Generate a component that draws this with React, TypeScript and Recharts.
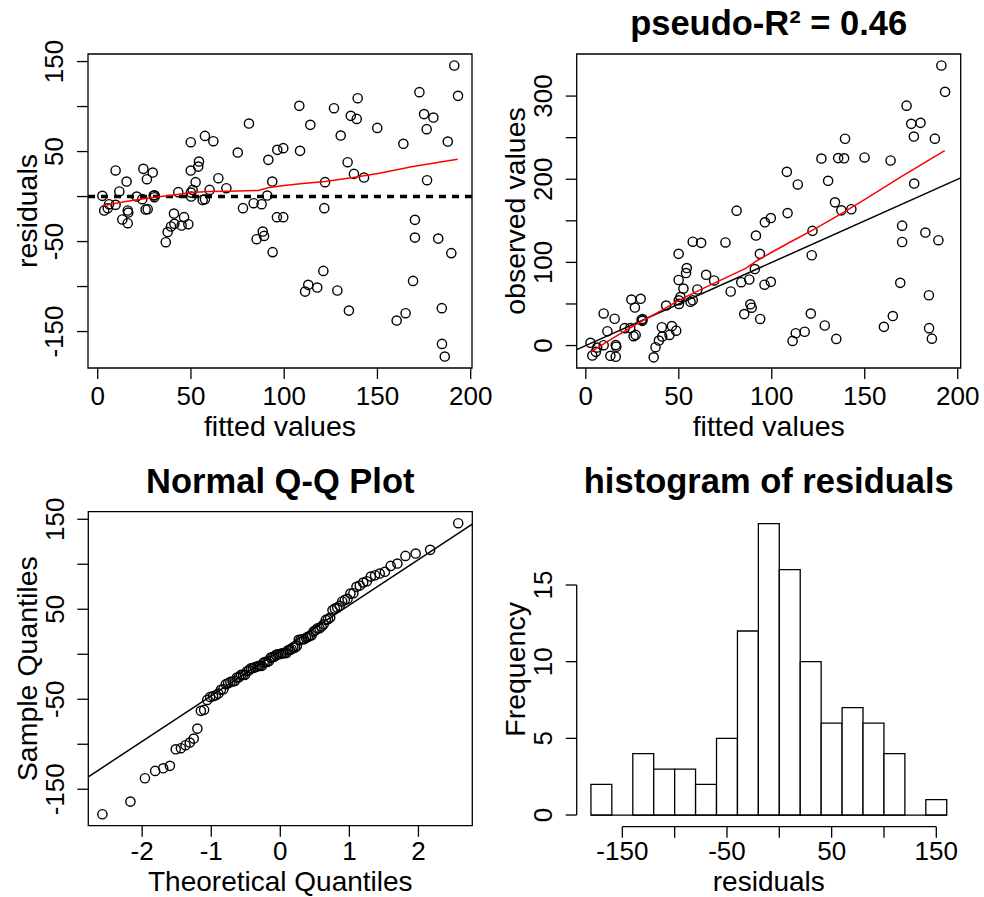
import React from "react";
import {
  Bar,
  ComposedChart,
  ReferenceArea,
  ReferenceLine,
  Scatter,
  ScatterChart,
  XAxis,
  YAxis,
} from "recharts";

const FONT = "'Liberation Sans', Arial, Helvetica, sans-serif";
const TICK_FONT = 26;
const LABEL_FONT = 28.5;
const TITLE_FONT = 34.5;

// fitted values and residuals of the model (panel 1)
const fitted = [
  2.5, 3.5, 5.4, 6.1, 9.6, 9.6, 11.6, 13.2, 15.5, 16.1, 16.4, 16.1, 20.9, 24.5, 23.9, 25.7, 26.8,
  26.4, 29.5, 30, 30.4, 30.5, 36.5, 37.5, 39.3, 40.9, 41.1, 43.2, 45, 46.3, 48.6, 49.9, 49.9, 50,
  50.1, 50.9, 52.5, 53.9, 54.3, 56.3, 57.5, 57.5, 60, 62, 64.7, 69, 75.1, 77.9, 81.1, 83.6, 85.2,
  87.9, 88.5, 89.2, 90.9, 91.5, 93.6, 93.8, 96.3, 96.1, 99.5, 99.5, 108.1, 108.5, 111.2, 112.9, 114,
  117.7, 121, 121.9, 121.5, 126.7, 128.5, 130.3, 134, 134.7, 135.7, 138.9, 139.4, 137.4, 142.8,
  149.9, 160.3, 163.9, 165.1, 169.1, 170.1, 170.1, 172.5, 175, 176.4, 176.6, 180, 182.6, 184.5,
  184.6, 186.1, 187.7, 189.6, 191.2, 193.2,
];
const residuals = [
  0.8, -15.5, -13, -8.5, -9.2, 29, 5.6, -25.5, 16.7, -15.5, -17.8, -29.6, 0, 30.8, -2.9, -14.4, -14,
  19.3, 26.7, 1.1, -0.7, 1.5, -50.7, -39.5, -33.3, -18.9, -30.3, 4.9, -32.2, -22.9, -30.7, 60.4,
  28.9, 4.4, 0, 7.4, 16, 33.3, 38.9, -3.7, 67.4, -3, 7.4, 61.5, 20.4, 9.3, 48.9, -12.9, 81.1, -7.4,
  -47.4, -8.5, -38.9, -43.7, 1.1, 40.8, 16.7, -61.8, 51.9, -22.9, 53.8, -22.9, 100.8, 50.8, -105.6,
  -98.1, 79.7, -101.1, -82.6, 16, -12.9, 98.2, -104.4, 67.8, 38.2, -126.7, 89.7, 86.3, 109.3, 25.2,
  21.1, 76.3, -137.8, 58.6, -129.6, -93.7, -25.9, -45.6, 116, 91.6, 74.9, 18.2, 87.8, -46.7, -124,
  -163.7, -177.8, 61.1, -62.9, 145.6, 111.9,
];
// observed values (panel 2), same order as fitted
const observed = [
  3.3, -12, -7.6, -2.4, 0.4, 38.6, 17.2, -12.3, 32.2, 0.6, -1.4, -13.5, 20.9, 55.3, 21, 11.3, 12.8,
  45.7, 56.2, 31.1, 29.7, 32, -14.2, -2, 6, 22, 10.8, 48.1, 12.8, 23.4, 17.9, 110.3, 78.8, 54.4,
  50.1, 58.3, 68.5, 87.2, 93.2, 52.6, 124.9, 54.5, 67.4, 123.5, 85.1, 78.3, 124, 65, 162.2, 76.2,
  37.8, 79.4, 49.6, 45.5, 92, 132.3, 110.3, 32, 148.2, 73.2, 153.3, 76.6, 208.9, 159.3, 5.6, 14.8,
  193.7, 16.6, 38.4, 137.9, 108.6, 224.9, 24.1, 198.1, 172.2, 8, 225.4, 225.2, 248.7, 162.6, 163.9,
  226.2, 22.5, 222.5, 35.5, 75.4, 144.2, 124.5, 288.5, 266.6, 251.3, 194.8, 267.8, 135.9, 60.5,
  20.9, 8.3, 248.8, 126.7, 336.8, 305.1,
];

// red smoothers
const smoothX = [2.5, 15, 29, 40, 50, 60, 70, 80, 86, 92, 100, 110, 122, 137, 151, 169, 193];
const smoothResid = [-10.3, -5.5, -1, 1.5, 4.4, 5.5, 6, 6.5, 6.8, 10, 12.2, 14.5, 16.7, 21.1, 26, 33.3, 41.5];
const smoothObserved = [-7.8, 9.5, 28, 41.5, 54.4, 65.5, 76, 86.5, 92.8, 102, 112.2, 124.5, 138.7, 158.1, 177, 202.3, 234.5];

// normal Q-Q plot
const theoretical = [
  -2.5758, -2.1701, -1.96, -1.8119, -1.6954, -1.5982, -1.5141, -1.4395, -1.3722, -1.3106, -1.2536,
  -1.2004, -1.1503, -1.1031, -1.0581, -1.0152, -0.9741, -0.9346, -0.8965, -0.8596, -0.8239, -0.7892,
  -0.7554, -0.7225, -0.6903, -0.6588, -0.628, -0.5978, -0.5681, -0.5388, -0.5101, -0.4817, -0.4538,
  -0.4261, -0.3989, -0.3719, -0.3451, -0.3186, -0.2924, -0.2663, -0.2404, -0.2147, -0.1891, -0.1637,
  -0.1383, -0.113, -0.0878, -0.0627, -0.0376, -0.0125, 0.0125, 0.0376, 0.0627, 0.0878, 0.113,
  0.1383, 0.1637, 0.1891, 0.2147, 0.2404, 0.2663, 0.2924, 0.3186, 0.3451, 0.3719, 0.3989, 0.4261,
  0.4538, 0.4817, 0.5101, 0.5388, 0.5681, 0.5978, 0.628, 0.6588, 0.6903, 0.7225, 0.7554, 0.7892,
  0.8239, 0.8596, 0.8965, 0.9346, 0.9741, 1.0152, 1.0581, 1.1031, 1.1503, 1.2004, 1.2536, 1.3106,
  1.3722, 1.4395, 1.5141, 1.5982, 1.6954, 1.8119, 1.96, 2.1701, 2.5758,
];
const sampleQuantiles = [
  -177.8, -163.7, -137.8, -129.6, -126.7, -124, -105.6, -104.4, -101.1, -98.1, -93.7, -82.6, -62.9,
  -61.8, -50.7, -47.4, -46.7, -45.6, -43.7, -39.5, -38.9, -33.3, -32.2, -30.7, -30.3, -29.6, -25.9,
  -25.5, -22.9, -22.9, -22.9, -18.9, -17.8, -15.5, -15.5, -14.4, -14, -13, -12.9, -12.9, -9.2, -8.5,
  -8.5, -7.4, -3.7, -3, -2.9, -0.7, 0, 0, 0.8, 1.1, 1.1, 1.5, 4.4, 4.9, 5.6, 7.4, 7.4, 9.3, 16, 16,
  16.7, 16.7, 18.2, 19.3, 20.4, 21.1, 25.2, 26.7, 28.9, 29, 30.8, 33.3, 38.2, 38.9, 40.8, 48.9,
  50.8, 51.9, 53.8, 58.6, 60.4, 61.5, 67.4, 67.8, 74.9, 76.3, 79.7, 81.1, 86.3, 87.8, 89.7, 91.6,
  98.2, 100.8, 109.3, 111.9, 116, 145.6,
];
const qqLineX = [-2.78, 2.78];
const qqLineY = [-136.2, 144.6];

// histogram of residuals
const binMids = [-170, -150, -130, -110, -90, -70, -50, -30, -10, 10, 30, 50, 70, 90, 110, 130, 150];
const binCounts = [2, 0, 4, 3, 3, 2, 5, 12, 19, 16, 10, 6, 7, 6, 4, 0, 1];

const residualPoints = fitted.map((x, i) => ({ x, y: residuals[i] }));
const observedPoints = fitted.map((x, i) => ({ x, y: observed[i] }));
const residSmooth = smoothX.map((x, i) => ({ x, y: smoothResid[i] }));
const observedSmooth = smoothX.map((x, i) => ({ x, y: smoothObserved[i] }));
const qqPoints = theoretical.map((x, i) => ({ x, y: sampleQuantiles[i] }));
const histData = binMids.map((mid, i) => ({ mid, count: binCounts[i] }));

const TICK_LINE = { stroke: "#000", strokeWidth: 1.3 };

const Ring = (p: any) => (
  <circle cx={p.cx} cy={p.cy} r={4.6} fill="none" stroke="#000" strokeWidth={1.4} />
);
const NoMark = () => <g />;

// x tick labels; R skips labels that would collide, so only some ticks get one
function xTick(labels: number[], drop = 26) {
  return (p: any) => {
    if (!labels.includes(p.payload.value)) return <g />;
    return (
      <text x={p.x} y={p.y + drop} textAnchor="middle" fontSize={TICK_FONT} fontFamily={FONT} fill="#000">
        {String(p.payload.value)}
      </text>
    );
  };
}

function yTick(labels: number[]) {
  return (p: any) => {
    if (!labels.includes(p.payload.value)) return <g />;
    const bx = p.x - 13.5;
    return (
      <text
        x={bx}
        y={p.y}
        transform={`rotate(-90 ${bx} ${p.y})`}
        textAnchor="middle"
        fontSize={TICK_FONT}
        fontFamily={FONT}
        fill="#000"
      >
        {String(p.payload.value)}
      </text>
    );
  };
}

const axisCommon = {
  type: "number" as const,
  allowDataOverflow: true,
  axisLine: false,
  tickLine: TICK_LINE,
  tickSize: 11,
  tickMargin: 0,
  interval: 0 as const,
};

function Label({ x, y, text, rotate, bold, size }: { x: number; y: number; text: string; rotate?: boolean; bold?: boolean; size: number }) {
  return (
    <text
      x={x}
      y={y}
      transform={rotate ? `rotate(-90 ${x} ${y})` : undefined}
      textAnchor="middle"
      fontSize={size}
      fontWeight={bold ? "bold" : "normal"}
      fontFamily={FONT}
      fill="#000"
    >
      {text}
    </text>
  );
}

export default function App() {
  const p1x: [number, number] = [-5.2, 200.7];
  const p1y: [number, number] = [-190.5, 158.4];
  const p2x: [number, number] = [-4.9, 201.6];
  const p2y: [number, number] = [-27, 350.6];
  const p3x: [number, number] = [-2.78, 2.78];
  const p3y: [number, number] = [-190.5, 158.4];
  const p4x: [number, number] = [-193.6, 173.6];
  const p4y: [number, number] = [-0.76, 19.76];

  return (
    <div style={{ position: "absolute", left: 0, top: 0, width: 984, height: 897, background: "#fff" }}>
      {/* residuals vs fitted */}
      <div style={{ position: "absolute", left: 0, top: 0 }}>
        <ScatterChart width={492} height={448} margin={{ top: 54, right: 20, bottom: 0, left: 0 }}>
          <XAxis {...axisCommon} dataKey="x" domain={p1x} ticks={[0, 50, 100, 150, 200]} height={80} tick={xTick([0, 50, 100, 150, 200])} />
          <YAxis {...axisCommon} dataKey="y" domain={p1y} ticks={[-150, -100, -50, 0, 50, 100, 150]} width={88} tick={yTick([-150, -50, 50, 150])} />
          <ReferenceArea x1={p1x[0]} x2={p1x[1]} y1={p1y[0]} y2={p1y[1]} fill="none" fillOpacity={0} stroke="#000" strokeWidth={1.3} ifOverflow="visible" />
          <ReferenceLine y={0} stroke="#000" strokeWidth={3.5} strokeDasharray="7 6" />
          <Scatter data={residualPoints} shape={Ring} isAnimationActive={false} />
          <Scatter data={residSmooth} shape={NoMark} line={{ stroke: "#ff0000", strokeWidth: 1.5 }} isAnimationActive={false} />
        </ScatterChart>
      </div>

      {/* observed vs fitted */}
      <div style={{ position: "absolute", left: 492, top: 0 }}>
        <ScatterChart width={492} height={448} margin={{ top: 54, right: 23.3, bottom: 0, left: 0 }}>
          <XAxis {...axisCommon} dataKey="x" domain={p2x} ticks={[0, 50, 100, 150, 200]} height={80} tick={xTick([0, 50, 100, 150, 200])} />
          <YAxis {...axisCommon} dataKey="y" domain={p2y} ticks={[0, 50, 100, 150, 200, 250, 300]} width={84.7} tick={yTick([0, 100, 200, 300])} />
          <ReferenceArea x1={p2x[0]} x2={p2x[1]} y1={p2y[0]} y2={p2y[1]} fill="none" fillOpacity={0} stroke="#000" strokeWidth={1.3} ifOverflow="visible" />
          <ReferenceLine segment={[{ x: p2x[0], y: p2x[0] }, { x: p2x[1], y: p2x[1] }]} stroke="#000" strokeWidth={1.5} ifOverflow="visible" />
          <Scatter data={observedPoints} shape={Ring} isAnimationActive={false} />
          <Scatter data={observedSmooth} shape={NoMark} line={{ stroke: "#ff0000", strokeWidth: 1.5 }} isAnimationActive={false} />
        </ScatterChart>
      </div>

      {/* normal Q-Q */}
      <div style={{ position: "absolute", left: 0, top: 448 }}>
        <ScatterChart width={492} height={449} margin={{ top: 63.7, right: 19.7, bottom: 0, left: 0 }}>
          <XAxis {...axisCommon} dataKey="x" domain={p3x} ticks={[-2, -1, 0, 1, 2]} height={71.3} tick={xTick([-2, -1, 0, 1, 2], 23)} />
          <YAxis {...axisCommon} dataKey="y" domain={p3y} ticks={[-150, -100, -50, 0, 50, 100, 150]} width={88.3} tick={yTick([-150, -50, 50, 150])} />
          <ReferenceArea x1={p3x[0]} x2={p3x[1]} y1={p3y[0]} y2={p3y[1]} fill="none" fillOpacity={0} stroke="#000" strokeWidth={1.3} ifOverflow="visible" />
          <ReferenceLine segment={[{ x: qqLineX[0], y: qqLineY[0] }, { x: qqLineX[1], y: qqLineY[1] }]} stroke="#000" strokeWidth={1.5} ifOverflow="visible" />
          <Scatter data={qqPoints} shape={Ring} isAnimationActive={false} />
        </ScatterChart>
      </div>

      {/* histogram */}
      <div style={{ position: "absolute", left: 492, top: 448 }}>
        <ComposedChart width={492} height={449} data={histData} barCategoryGap={0} margin={{ top: 64, right: 23, bottom: 0, left: 0 }}>
          <XAxis {...axisCommon} dataKey="mid" domain={p4x} ticks={[-150, -100, -50, 0, 50, 100, 150]} height={70.3} tick={xTick([-150, -50, 50, 150], 22)} />
          <YAxis {...axisCommon} domain={p4y} ticks={[0, 5, 10, 15]} width={84.7} tick={yTick([0, 5, 10, 15])} />
          <Bar dataKey="count" barSize={20.9} fill="#fff" stroke="#000" strokeWidth={1.3} isAnimationActive={false} />
          <ReferenceLine segment={[{ x: binMids[0] - 10, y: 0 }, { x: binMids[binMids.length - 1] + 10, y: 0 }]} stroke="#000" strokeWidth={1.3} ifOverflow="visible" />
          <ReferenceLine segment={[{ x: p4x[0], y: 0 }, { x: p4x[0], y: 15 }]} stroke="#000" strokeWidth={1.3} ifOverflow="visible" />
          <ReferenceLine segment={[{ x: -150, y: p4y[0] }, { x: 150, y: p4y[0] }]} stroke="#000" strokeWidth={1.3} ifOverflow="visible" />
        </ComposedChart>
      </div>

      {/* titles and axis labels */}
      <svg width={984} height={897} style={{ position: "absolute", left: 0, top: 0, pointerEvents: "none" }}>
        <Label x={768.7} y={35} text="pseudo-R² = 0.46" bold size={TITLE_FONT} />
        <Label x={280.3} y={492.7} text="Normal Q-Q Plot" bold size={TITLE_FONT} />
        <Label x={768.8} y={493} text="histogram of residuals" bold size={TITLE_FONT} />
        <Label x={280} y={436} text="fitted values" size={LABEL_FONT} />
        <Label x={768.7} y={436} text="fitted values" size={LABEL_FONT} />
        <Label x={280.3} y={891} text="Theoretical Quantiles" size={28} />
        <Label x={768.8} y={891} text="residuals" size={28} />
        <Label x={36.7} y={211} text="residuals" rotate size={LABEL_FONT} />
        <Label x={525.4} y={211} text="observed values" rotate size={LABEL_FONT} />
        <Label x={37} y={668.7} text="Sample Quantiles" rotate size={LABEL_FONT} />
        <Label x={525.4} y={669.4} text="Frequency" rotate size={LABEL_FONT} />
      </svg>
    </div>
  );
}
